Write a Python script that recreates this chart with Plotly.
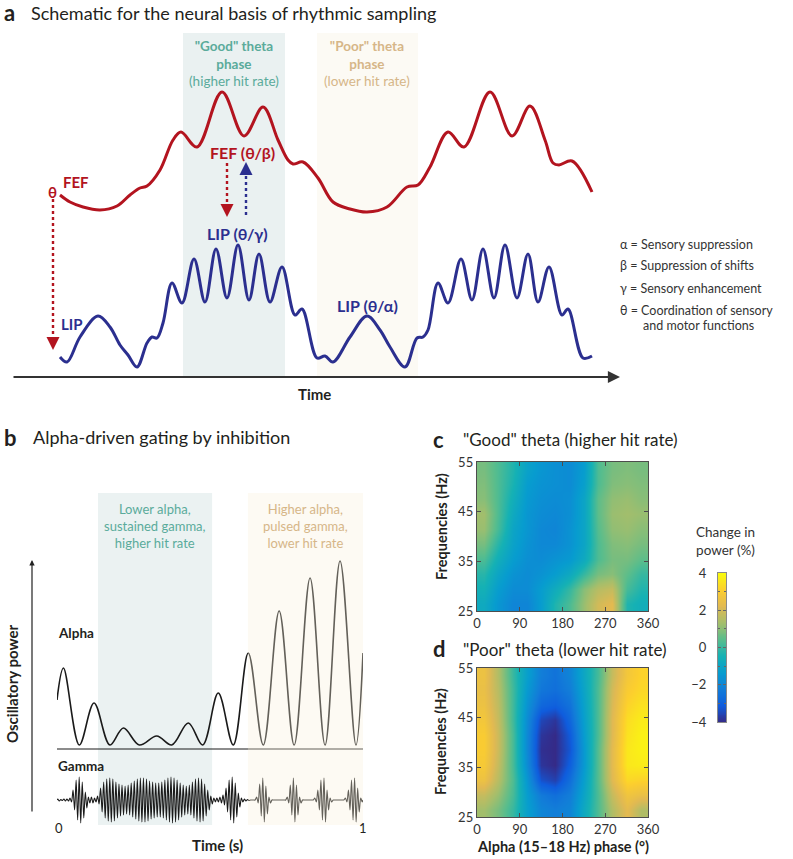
import numpy as np
import plotly.graph_objects as go

W, H = 793, 859
FONT = "Lato"
RED = "#b3141f"
NAVY = "#2b2f8f"
TEAL = "#5aab9b"
TAN = "#d6b688"
INK = "#231f20"

def px(x):
    return x / W

def py(y):
    return 1 - y / H

# ---------------- Panel a: schematic FEF / LIP activity (arbitrary units) ----------------
fef_t = [4.8, 5.8, 7.1, 8.8, 10.5, 11.8, 12.8, 13.5, 14.8, 16.1, 16.9, 18.5, 21.0, 23.2, 25.1,
         26.6, 27.6, 28.1, 29.1, 30.6, 32.1, 33.8, 35.5, 37.5, 39.5, 40.6, 41.8, 43.6, 45.2,
         47.8, 50.0, 51.8, 53.3, 54.1, 54.7, 56.0, 58.0]
fef_v = [18.2, 17.5, 17.0, 16.7, 17.1, 18.2, 18.9, 19.1, 20.7, 23.7, 24.5, 23.0, 28.5, 24.1, 27.0,
         23.7, 21.7, 21.3, 21.5, 19.9, 17.5, 16.8, 16.5, 17.0, 19.0, 19.2, 21.0, 24.5, 23.0,
         28.5, 24.1, 27.1, 23.7, 21.4, 21.2, 21.6, 18.5]
lip_t = [4.8, 5.5, 6.8, 8.6, 9.8, 10.8, 11.6, 12.5, 13.5, 14.0, 14.5, 15.1, 16.0, 17.0, 18.2,
         19.3, 20.4, 21.5, 22.6, 23.7, 24.7, 25.8, 27.0, 28.3, 29.0, 30.5, 31.3, 32.1, 33.8,
         35.5, 36.8, 37.8, 39.3, 40.5, 41.1, 41.6, 42.6, 43.6, 44.9, 46.0, 47.1, 48.2, 49.3,
         50.5, 51.6, 52.6, 53.7, 55.0, 55.6, 57.1, 58.0]
lip_v = [2.0, 1.5, 4.0, 6.1, 5.0, 3.2, 2.2, 1.0, 3.4, 4.0, 3.9, 5.4, 9.4, 7.4, 11.8,
         7.5, 12.8, 7.9, 13.2, 7.7, 12.3, 7.5, 11.0, 6.2, 6.8, 1.9, 2.1, 1.5, 4.0,
         6.1, 4.7, 3.0, 1.0, 3.9, 4.0, 4.7, 9.4, 7.4, 11.8, 7.7, 12.8, 7.9, 13.2,
         7.9, 12.3, 7.5, 11.0, 6.2, 6.8, 1.9, 2.1]
good_phase_a = [17.1, 27.3]
poor_phase_a = [30.5, 40.6]

# ---------------- Panel b: alpha & gamma (time in s) ----------------
alpha_t = [0.0, 0.021, 0.073, 0.121, 0.173, 0.217, 0.269, 0.326, 0.375, 0.429, 0.476, 0.527,
           0.576, 0.625, 0.674, 0.726, 0.775, 0.827, 0.876, 0.925, 0.977, 1.0]
alpha_v = [12.5, 15.7, 8.0, 12.2, 8.0, 9.7, 8.0, 8.9, 8.0, 10.2, 8.0, 13.2,
           8.0, 17.2, 8.0, 21.4, 8.0, 24.7, 8.0, 26.4, 8.0, 17.2]
alpha_base = 7.6
gamma_center = 2.5
gamma_amp = [0.1, 0.05, 0.1, 0.1, 0.2, 1.0, 2.0, 2.3, 1.8, 0.8,
             0.3, 0.3, 0.2, 0.4, 1.2, 1.8, 2.1, 2.2, 2.1, 1.8,
             1.6, 1.5, 1.4, 1.5, 1.7, 1.9, 2.1, 2.2, 2.2, 2.1,
             1.9, 1.8, 1.7, 1.7, 1.8, 2.0, 2.2, 2.3, 2.2, 2.0,
             1.7, 1.5, 1.4, 1.5, 1.8, 2.1, 2.2, 2.1, 1.6, 1.0,
             0.4, 0.2, 0.2, 0.3, 0.5, 1.2, 2.0, 2.3, 1.7, 0.7,
             0.2, 0.1, 0.05, 0.0, 0.0, 0.3, 1.6, 2.2, 1.4, 0.3,
             0.0, 0.0, 0.0, 0.0, 0.0, 0.3, 1.5, 2.2, 1.5, 0.3,
             0.0, 0.0, 0.0, 0.0, 0.2, 1.0, 2.0, 2.2, 1.0, 0.2,
             0.0, 0.0, 0.0, 0.0, 0.2, 1.0, 2.0, 2.2, 1.2, 0.2]
good_phase_b = [0.134, 0.507]
poor_phase_b = [0.624, 1.0]

# ---------------- Panels c/d: change in power (%) ----------------
phase_deg = [15, 45, 75, 105, 135, 165, 195, 225, 255, 285, 315, 345]
freq_hz = [26.5, 29.5, 32.5, 35.5, 38.5, 41.5, 44.5, 47.5, 50.5, 53.5]
good_theta = [
    [-0.8, -1.5, -2.0, -2.0, -1.3, -0.3, 0.3, 1.2, 2.0, 2.3, -0.3, -0.6],
    [-0.5, -1.3, -1.8, -1.8, -1.3, -0.7, 0.0, 1.0, 1.6, 1.8, 0.2, -0.3],
    [-0.2, -1.0, -1.6, -1.8, -1.6, -1.3, -0.8, 0.0, 0.8, 1.0, 0.5, 0.0],
    [0.3, -0.6, -1.3, -1.7, -1.8, -1.6, -1.4, -0.8, 0.3, 0.8, 0.8, 0.5],
    [0.8, -0.2, -1.1, -1.6, -1.9, -1.9, -1.6, -1.0, 0.3, 0.9, 1.0, 0.8],
    [1.2, 0.2, -1.0, -1.5, -1.9, -2.0, -1.6, -1.0, 0.4, 1.1, 1.2, 1.0],
    [1.3, 0.3, -0.8, -1.5, -1.8, -1.9, -1.7, -1.0, 0.5, 1.2, 1.3, 1.2],
    [1.0, 0.3, -0.6, -1.4, -1.7, -1.8, -1.7, -1.0, 0.5, 1.1, 1.2, 1.0],
    [0.9, 0.3, -0.4, -1.3, -1.6, -1.7, -1.8, -1.2, 0.3, 0.9, 1.0, 0.9],
    [0.8, 0.3, -0.3, -1.1, -1.5, -1.7, -1.8, -1.3, 0.3, 0.8, 0.9, 0.8],
]
poor_theta = [
    [1.3, 0.8, 0.0, -1.2, -2.0, -2.2, -2.0, -0.8, 0.3, 1.5, 2.3, 1.5],
    [1.8, 1.2, 0.2, -1.3, -2.3, -2.6, -2.2, -1.0, 0.3, 1.8, 2.7, 2.5],
    [2.6, 1.6, 0.3, -1.5, -3.3, -3.6, -2.6, -1.2, 0.4, 2.2, 3.3, 3.2],
    [2.9, 1.8, 0.2, -1.8, -3.8, -4.0, -3.0, -1.4, 0.4, 2.3, 3.6, 3.7],
    [3.0, 1.9, 0.2, -1.9, -3.9, -4.0, -3.2, -1.4, 0.4, 2.3, 3.6, 3.8],
    [3.0, 1.9, 0.2, -1.9, -3.8, -4.0, -3.1, -1.3, 0.3, 2.2, 3.5, 3.8],
    [2.8, 1.8, 0.1, -1.8, -3.5, -3.8, -2.8, -1.2, 0.3, 2.2, 3.4, 3.7],
    [2.6, 1.7, 0.1, -1.6, -2.8, -3.0, -2.5, -1.1, 0.3, 2.1, 3.2, 3.5],
    [2.5, 1.6, 0.1, -1.4, -2.4, -2.6, -2.2, -1.0, 0.3, 2.0, 3.0, 3.3],
    [2.6, 1.5, 0.0, -1.2, -2.2, -2.5, -2.0, -0.9, 0.2, 1.8, 2.8, 3.2],
]
phase_ticks = [0, 90, 180, 270, 360]
freq_ticks = [25, 35, 45, 55]
cbar_ticks = [-4, -2, 0, 2, 4]

parula = [[0.0, "rgb(53,42,135)"], [1/9, "rgb(15,92,221)"], [2/9, "rgb(18,125,216)"],
          [3/9, "rgb(7,156,207)"], [4/9, "rgb(21,177,180)"], [5/9, "rgb(89,189,140)"],
          [6/9, "rgb(165,190,107)"], [7/9, "rgb(225,185,82)"], [8/9, "rgb(252,206,46)"],
          [1.0, "rgb(249,251,14)"]]

fig = go.Figure()

# panel a curves
fig.add_trace(go.Scatter(x=fef_t, y=fef_v, mode="lines", line=dict(color=RED, width=3, shape="spline", smoothing=1.0),
                         xaxis="x", yaxis="y", hoverinfo="skip", showlegend=False))
fig.add_trace(go.Scatter(x=lip_t, y=lip_v, mode="lines", line=dict(color=NAVY, width=3, shape="spline", smoothing=1.0),
                         xaxis="x", yaxis="y", hoverinfo="skip", showlegend=False))

# panel b curves
fig.add_trace(go.Scatter(x=alpha_t, y=alpha_v, mode="lines", line=dict(color="#1a1a1a", width=1.6, shape="spline", smoothing=1.0),
                         xaxis="x2", yaxis="y2", hoverinfo="skip", showlegend=False))
g_t, g_v = [0.0], [gamma_center]
n = len(gamma_amp)
for i, a in enumerate(gamma_amp):
    g_t += [(i + 0.25) / n, (i + 0.75) / n]
    g_v += [gamma_center + a, gamma_center - a]
g_t.append(1.0)
g_v.append(gamma_center)
fig.add_trace(go.Scatter(x=g_t, y=g_v, mode="lines", line=dict(color="#1a1a1a", width=1.1, shape="spline", smoothing=0.8),
                         xaxis="x2", yaxis="y2", hoverinfo="skip", showlegend=False))

# heatmaps
fig.add_trace(go.Heatmap(x=phase_deg, y=freq_hz, z=good_theta, colorscale=parula, zmin=-4, zmax=4,
                         zsmooth="best", showscale=False, xaxis="x3", yaxis="y3", hoverinfo="skip"))
fig.add_trace(go.Heatmap(x=phase_deg, y=freq_hz, z=poor_theta, colorscale=parula, zmin=-4, zmax=4,
                         zsmooth="best", showscale=False, xaxis="x4", yaxis="y4", hoverinfo="skip"))
levels = np.linspace(-4, 4, 161)
fig.add_trace(go.Heatmap(x=[0.5], y=levels, z=[[v] for v in levels], colorscale=parula, zmin=-4, zmax=4,
                         zsmooth="best", showscale=False, xaxis="x5", yaxis="y5", hoverinfo="skip"))

hid = dict(visible=False, fixedrange=True, automargin=False)
hm_axis = dict(showline=True, linecolor="#4d4d4d", linewidth=1.2, mirror="ticks", ticks="inside",
               ticklen=4, tickcolor="#4d4d4d", showgrid=False, zeroline=False, automargin=False,
               tickfont=dict(family=FONT, size=13, color="#333"))

fig.update_layout(
    template="none",
    width=W, height=H, margin=dict(l=0, r=0, t=0, b=0, pad=0), autosize=False,
    paper_bgcolor="white", plot_bgcolor="rgba(0,0,0,0)", showlegend=False,
    font=dict(family=FONT, color=INK),
    xaxis=dict(domain=[px(12), px(620)], range=[0, 60.8], anchor="y", **hid),
    yaxis=dict(domain=[py(377), py(30)], range=[0, 34.7], anchor="x", **hid),
    xaxis2=dict(domain=[px(57), px(363)], range=[0, 1], anchor="y2", **hid),
    yaxis2=dict(domain=[py(825), py(493)], range=[0, 33.2], anchor="x2", **hid),
    xaxis3=dict(domain=[px(477), px(648)], range=[0, 360], tickvals=phase_ticks, anchor="y3", **hm_axis),
    yaxis3=dict(domain=[py(611), py(462)], range=[25, 55], tickvals=freq_ticks, anchor="x3", **hm_axis),
    xaxis4=dict(domain=[px(477), px(648)], range=[0, 360], tickvals=phase_ticks, anchor="y4", **hm_axis),
    yaxis4=dict(domain=[py(817), py(668)], range=[25, 55], tickvals=freq_ticks, anchor="x4", **hm_axis),
    xaxis5=dict(domain=[px(718), px(726)], range=[0, 1], anchor="y5", showline=True, mirror=True,
                linecolor="#8a8a8a", linewidth=1, showticklabels=False, ticks="", showgrid=False,
                zeroline=False, automargin=False),
    yaxis5=dict(domain=[py(722), py(573)], range=[-4, 4], anchor="x5", tickvals=cbar_ticks, showline=True,
                mirror="ticks", linecolor="#8a8a8a", linewidth=1, ticks="inside", ticklen=3, tickcolor="#666",
                minor=dict(dtick=1, ticks="inside", ticklen=2, tickcolor="#666"),
                showgrid=False, zeroline=False, ticklabelstandoff=8, automargin=False,
                tickfont=dict(family=FONT, size=13, color="#333")),
)

shapes = []
# panel a phase regions
shapes.append(dict(type="rect", xref="x", yref="y", x0=good_phase_a[0], x1=good_phase_a[1], y0=0, y1=34.4,
                   fillcolor="#eaf1f1", line=dict(width=0), layer="below"))
shapes.append(dict(type="rect", xref="x", yref="y", x0=poor_phase_a[0], x1=poor_phase_a[1], y0=0, y1=34.4,
                   fillcolor="#fcfaf4", line=dict(width=0), layer="below"))
# dotted arrow shafts
shapes.append(dict(type="line", xref="x", yref="y", x0=4.1, x1=4.1, y0=17.8, y1=3.6,
                   line=dict(color=RED, width=2.4, dash="dot")))
shapes.append(dict(type="line", xref="x", yref="y", x0=21.5, x1=21.5, y0=21.4, y1=17.2,
                   line=dict(color=RED, width=2.4, dash="dot")))
shapes.append(dict(type="line", xref="x", yref="y", x0=23.4, x1=23.4, y0=16.2, y1=20.4,
                   line=dict(color=NAVY, width=2.4, dash="dot")))
# panel b regions
shapes.append(dict(type="rect", xref="x2", yref="y2", x0=good_phase_b[0], x1=good_phase_b[1], y0=0, y1=33.2,
                   fillcolor="#ebf2f2", line=dict(width=0), layer="below"))
shapes.append(dict(type="rect", xref="x2", yref="y2", x0=poor_phase_b[0], x1=poor_phase_b[1], y0=0, y1=33.2,
                   fillcolor="rgba(248,240,220,0.33)", line=dict(width=0), layer="above"))
shapes.append(dict(type="line", xref="x2", yref="y2", x0=0, x1=1, y0=alpha_base, y1=alpha_base,
                   line=dict(color="#1a1a1a", width=1.2), layer="below"))
fig.update_layout(shapes=shapes)

ann = []

def txt(x, y, text, size, color=INK, bold=False, xanchor="center", angle=0):
    t = f"<b>{text}</b>" if bold else text
    ann.append(dict(x=px(x), y=py(y), xref="paper", yref="paper", text=t, showarrow=False,
                    xanchor=xanchor, yanchor="middle", textangle=angle, borderpad=0,
                    font=dict(family=FONT, size=size, color=color)))

def head(x, y, axp, ayp, color, xref="x", yref="y", size=1.3, width=2):
    ann.append(dict(x=x, y=y, xref=xref, yref=yref, ax=axp, ay=ayp, text="", showarrow=True,
                    arrowhead=2, arrowsize=size, arrowwidth=width, arrowcolor=color))

# panel a texts
txt(3, 12, "a", 22, bold=True, xanchor="left")
txt(30, 13, "Schematic for the neural basis of rhythmic sampling", 18, xanchor="left")
txt(234, 63, '<b>"Good" theta<br>phase</b><br>(higher hit rate)', 13.5, TEAL)
txt(367, 63, '<b>"Poor" theta<br>phase</b><br>(lower hit rate)', 13.5, TAN)
txt(242, 152, "FEF (θ/β)", 16, RED, bold=True)
txt(237, 233, "LIP (θ/γ)", 16, NAVY, bold=True)
txt(367, 305, "LIP (θ/α)", 16, NAVY, bold=True)
txt(62, 182, "FEF", 15, RED, bold=True, xanchor="left")
txt(52, 192, "θ", 15, RED, bold=True)
txt(60, 324, "LIP", 15, NAVY, bold=True, xanchor="left")
txt(314, 394, "Time", 15, bold=True)
for yy, s in [(244, "α = Sensory suppression"), (266, "β = Suppression of shifts"),
              (288, "γ = Sensory enhancement"), (310, "θ = Coordination of sensory")]:
    txt(619, yy, s, 12.5, "#333", xanchor="left")
txt(642, 326, "and motor functions", 12.5, "#333", xanchor="left")

# arrows panel a
head(4.1, 2.7, 0, -10, RED)
head(21.5, 16.0, 0, -10, RED)
head(23.4, 21.5, 0, 10, NAVY)
ann.append(dict(x=60.8, y=0, xref="x", yref="y", ax=0, ay=0, axref="x", ayref="y", text="", showarrow=True,
                arrowhead=2, arrowsize=1.1, arrowwidth=2.2, arrowcolor="#333"))

# panel b texts
txt(3, 437, "b", 22, bold=True, xanchor="left")
txt(32, 437, "Alpha-driven gating by inhibition", 18, xanchor="left")
txt(155, 526, "Lower alpha,<br>sustained gamma,<br>higher hit rate", 13, TEAL)
txt(305, 526, "Higher alpha,<br>pulsed gamma,<br>lower hit rate", 13, TAN)
txt(57, 633, "Alpha", 13.5, bold=True, xanchor="left")
txt(57, 766, "Gamma", 13.5, bold=True, xanchor="left")
txt(12, 684, "Oscillatory power", 15, bold=True, angle=-90)
txt(59, 828, "0", 13)
txt(363, 828, "1", 13)
txt(218, 845, "Time (s)", 15, bold=True)
ann.append(dict(x=px(32), y=py(560), xref="paper", yref="paper", ax=0, ay=253, text="", showarrow=True,
                arrowhead=2, arrowsize=0.9, arrowwidth=1.2, arrowcolor="#222"))

# panels c/d texts
txt(432, 439, "c", 22, bold=True, xanchor="left")
txt(462, 439, '"Good" theta (higher hit rate)', 17, xanchor="left")
txt(432, 648, "d", 22, bold=True, xanchor="left")
txt(462, 649, '"Poor" theta (lower hit rate)', 17, xanchor="left")
txt(441, 527, "Frequencies (Hz)", 14.5, bold=True, angle=-90)
txt(440, 742, "Frequencies (Hz)", 14.5, bold=True, angle=-90)
txt(563, 846, "Alpha (15–18 Hz) phase (°)", 14.5, bold=True)
txt(725, 541, "Change in<br>power (%)", 13.5, "#333")

fig.update_layout(annotations=ann)
fig.write_html("out.html", config={"displayModeBar": False, "staticPlot": True},
               post_script="document.body.style.margin='0px';document.body.style.overflow='hidden';")
